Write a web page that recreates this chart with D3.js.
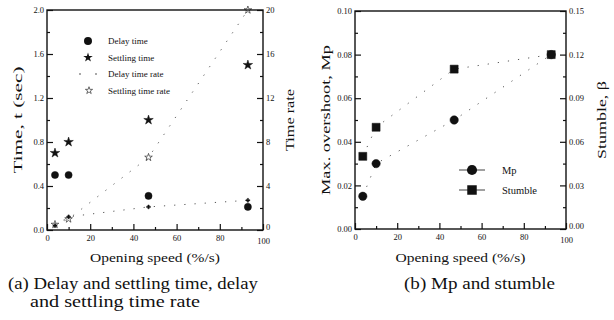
<!DOCTYPE html>
<html>
<head>
<meta charset="utf-8">
<script src="https://cdn.jsdelivr.net/npm/d3@7"></script>
<style>
  body { margin: 0; background: #fff; }
  svg { display: block; font-family: "Liberation Serif", "DejaVu Serif", serif; }
</style>
</head>
<body>
<svg id="chart" width="614" height="320"></svg>
<script>
// values
const speedA = [3.7, 10, 47, 93];
const delayTime = [0.5, 0.5, 0.31, 0.21];
const settlingTime = [0.7, 0.8, 1.0, 1.5];
const delayRate = [0.4, 1.2, 2.1, 2.7];
const settlingRate = [0.5, 1.0, 6.6, 20];

const speedB = [3.7, 10, 47, 93];
const mp = [0.015, 0.03, 0.05, 0.08];
const stumble = [0.05, 0.07, 0.11, 0.12];

const xTicks = [0, 20, 40, 60, 80, 100];
const timeTicks = [0, 0.4, 0.8, 1.2, 1.6, 2.0];
const rateTicks = [0, 4, 8, 12, 16, 20];
const mpTicks = [0, 0.02, 0.04, 0.06, 0.08, 0.10];
const stumbleTicks = [0, 0.03, 0.06, 0.09, 0.12, 0.15];

const legendA = ['Delay time', 'Settling time', 'Delay time rate', 'Settling time rate'];
const legendB = ['Mp', 'Stumble'];

const svg = d3.select('#chart');
const ink = '#111';

// text helper; the scan's type is wide, so lengths are forced to match
function label(x, y, str, size, len, rotate) {
  const t = svg.append('text')
    .attr('transform', `translate(${x},${y})${rotate ? ' rotate(-90)' : ''}`)
    .attr('text-anchor', rotate ? 'middle' : 'start')
    .style('font-size', `${size}px`).attr('fill', ink).text(str);
  if (len) t.attr('textLength', len).attr('lengthAdjust', 'spacingAndGlyphs');
  return t;
}

// frame + inward ticks for one panel
function drawFrame(x, yL, yR, opts) {
  const [x0, x1] = x.range();
  const [y0, y1] = yL.range();
  const g = svg.append('g');

  // minor ticks (halfway between major ticks)
  const minor = (ticks) => ticks.slice(1).map((t, i) => (t + ticks[i]) / 2);

  const bottom = g.append('g').attr('transform', `translate(0,${y0})`)
    .call(d3.axisBottom(x).tickValues(xTicks).tickSize(-6).tickPadding(5).tickFormat(d3.format('d')));
  g.append('g').attr('transform', `translate(0,${y0})`)
    .call(d3.axisBottom(x).tickValues(minor(xTicks)).tickSize(-3).tickFormat(''));

  g.append('g').attr('transform', `translate(${x0},0)`)
    .call(d3.axisLeft(yL).tickValues(opts.leftTicks).tickSize(-6).tickPadding(3).tickFormat(opts.leftFmt));
  g.append('g').attr('transform', `translate(${x0},0)`)
    .call(d3.axisLeft(yL).tickValues(minor(opts.leftTicks)).tickSize(-3).tickFormat(''));

  const right = g.append('g').attr('transform', `translate(${x1},0)`)
    .call(d3.axisRight(yR).tickValues(opts.rightTicks).tickSize(-6).tickPadding(3).tickFormat(opts.rightFmt));
  g.append('g').attr('transform', `translate(${x1},0)`)
    .call(d3.axisRight(yR).tickValues(minor(opts.rightTicks)).tickSize(-3).tickFormat(''));

  g.selectAll('.domain').remove();
  g.selectAll('.tick line').attr('stroke', ink).attr('stroke-width', 1.2);
  g.selectAll('.tick text').attr('fill', ink).style('font-size', '8.5px')
    .style('font-family', '"Liberation Serif", serif');

  // corner labels crowd each other, as in the scan: nudge them apart
  right.selectAll('.tick').filter((d) => d === 0).select('text').attr('dy', '-0.05em');
  bottom.selectAll('.tick').filter((d) => d === 100).select('text').attr('dy', '1.05em');

  // box
  g.append('rect').attr('x', x0).attr('y', y1).attr('width', x1 - x0).attr('height', y0 - y1)
    .attr('fill', 'none').attr('stroke', ink).attr('stroke-width', 1.4);

  // axis titles
  label((x0 + x1) / 2 - 65, 262, 'Opening speed (%/s)', 13.5, 130, false);
  label(opts.leftTitleX, (y0 + y1) / 2, opts.leftTitle, 13.5, opts.leftLen, true);
  label(opts.rightTitleX, (y0 + y1) / 2, opts.rightTitle, 13.5, opts.rightLen, true);
}

function dottedLine(xs, ys, x, y) {
  const line = d3.line().x((d, i) => x(xs[i])).y((d) => y(d));
  svg.append('path').datum(ys).attr('d', line).attr('fill', 'none')
    .attr('stroke', '#444').attr('stroke-width', 0.9).attr('stroke-dasharray', '1.2,9');
}

function markers(xs, ys, x, y, type, size, filled) {
  svg.append('g').selectAll('path').data(ys).join('path')
    .attr('transform', (d, i) => `translate(${x(xs[i])},${y(d)})`)
    .attr('d', d3.symbol().type(type).size(size))
    .attr('fill', filled ? ink : 'none')
    .attr('stroke', ink).attr('stroke-width', filled ? 0.5 : 0.6);
}

// ---------- panel (a)
const xA = d3.scaleLinear().domain([0, 100]).range([47, 263]);
const yTime = d3.scaleLinear().domain([0, 2]).range([230, 10]);
const yRate = d3.scaleLinear().domain([0, 20]).range([230, 10]);

drawFrame(xA, yTime, yRate, {
  leftTicks: timeTicks, rightTicks: rateTicks,
  leftFmt: d3.format('.1f'), rightFmt: d3.format('d'),
  leftTitle: 'Time, t (sec)', rightTitle: 'Time rate',
  leftTitleX: 22, rightTitleX: 294, leftLen: 107, rightLen: 62,
});

dottedLine(speedA, delayRate, xA, yRate);
dottedLine(speedA, settlingRate, xA, yRate);
markers(speedA, delayRate, xA, yRate, d3.symbolCross, 8, true);
markers(speedA, settlingRate, xA, yRate, d3.symbolStar, 18, false);
markers(speedA, delayTime, xA, yTime, d3.symbolCircle, 40, true);
markers(speedA, settlingTime, xA, yTime, d3.symbolStar, 28, true);

// legend (a)
const legA = svg.append('g').attr('transform', 'translate(88,41)');
const legStep = 16.5;
legA.append('path').attr('d', d3.symbol().type(d3.symbolCircle).size(50)).attr('fill', ink);
legA.append('path').attr('transform', `translate(0,${legStep})`)
  .attr('d', d3.symbol().type(d3.symbolStar).size(28)).attr('fill', ink);
legA.append('circle').attr('cx', -8).attr('cy', legStep * 2).attr('r', 0.7).attr('fill', ink);
legA.append('circle').attr('cx', 8).attr('cy', legStep * 2).attr('r', 0.7).attr('fill', ink);
legA.append('path').attr('transform', `translate(1,${legStep * 3})`)
  .attr('d', d3.symbol().type(d3.symbolStar).size(16)).attr('fill', 'none').attr('stroke', ink).attr('stroke-width', 0.6);
legA.selectAll('text').data(legendA).join('text')
  .attr('x', 20).attr('y', (d, i) => i * legStep + 3)
  .style('font-size', '9px').attr('fill', ink).text((d) => d);

// ---------- panel (b)
const xB = d3.scaleLinear().domain([0, 100]).range([355, 566]);
const yMp = d3.scaleLinear().domain([0, 0.10]).range([229, 11]);
const yStumble = d3.scaleLinear().domain([0, 0.15]).range([229, 11]);

drawFrame(xB, yMp, yStumble, {
  leftTicks: mpTicks, rightTicks: stumbleTicks,
  leftFmt: d3.format('.2f'), rightFmt: d3.format('.2f'),
  leftTitle: 'Max. overshoot, Mp', rightTitle: 'Stumble, β',
  leftTitleX: 330, rightTitleX: 606, leftLen: 150, rightLen: 78,
});

dottedLine(speedB, mp, xB, yMp);
dottedLine(speedB, stumble, xB, yStumble);
markers(speedB, mp, xB, yMp, d3.symbolCircle, 55, true);
markers(speedB, stumble, xB, yStumble, d3.symbolSquare, 64, true);

// legend (b)
const legB = svg.append('g').attr('transform', 'translate(472,170)');
legB.append('line').attr('x1', -13).attr('x2', 13).attr('stroke', ink).attr('stroke-width', 0.8);
legB.append('path').attr('d', d3.symbol().type(d3.symbolCircle).size(80)).attr('fill', ink);
legB.append('line').attr('x1', -13).attr('x2', 13).attr('y1', 20).attr('y2', 20).attr('stroke', ink).attr('stroke-width', 0.8);
legB.append('path').attr('transform', 'translate(0,20)')
  .attr('d', d3.symbol().type(d3.symbolSquare).size(90)).attr('fill', ink);
legB.selectAll('text').data(legendB).join('text')
  .attr('x', 30).attr('y', (d, i) => i * 20 + 3.5)
  .style('font-size', '10.5px').attr('fill', ink).text((d) => d);

// captions
label(8, 289, '(a) Delay and settling time, delay', 16, 250, false);
label(30, 307, 'and settling time rate', 16, 170, false);
label(404, 289, '(b) Mp and stumble', 16, 151, false);
</script>
</body>
</html>
